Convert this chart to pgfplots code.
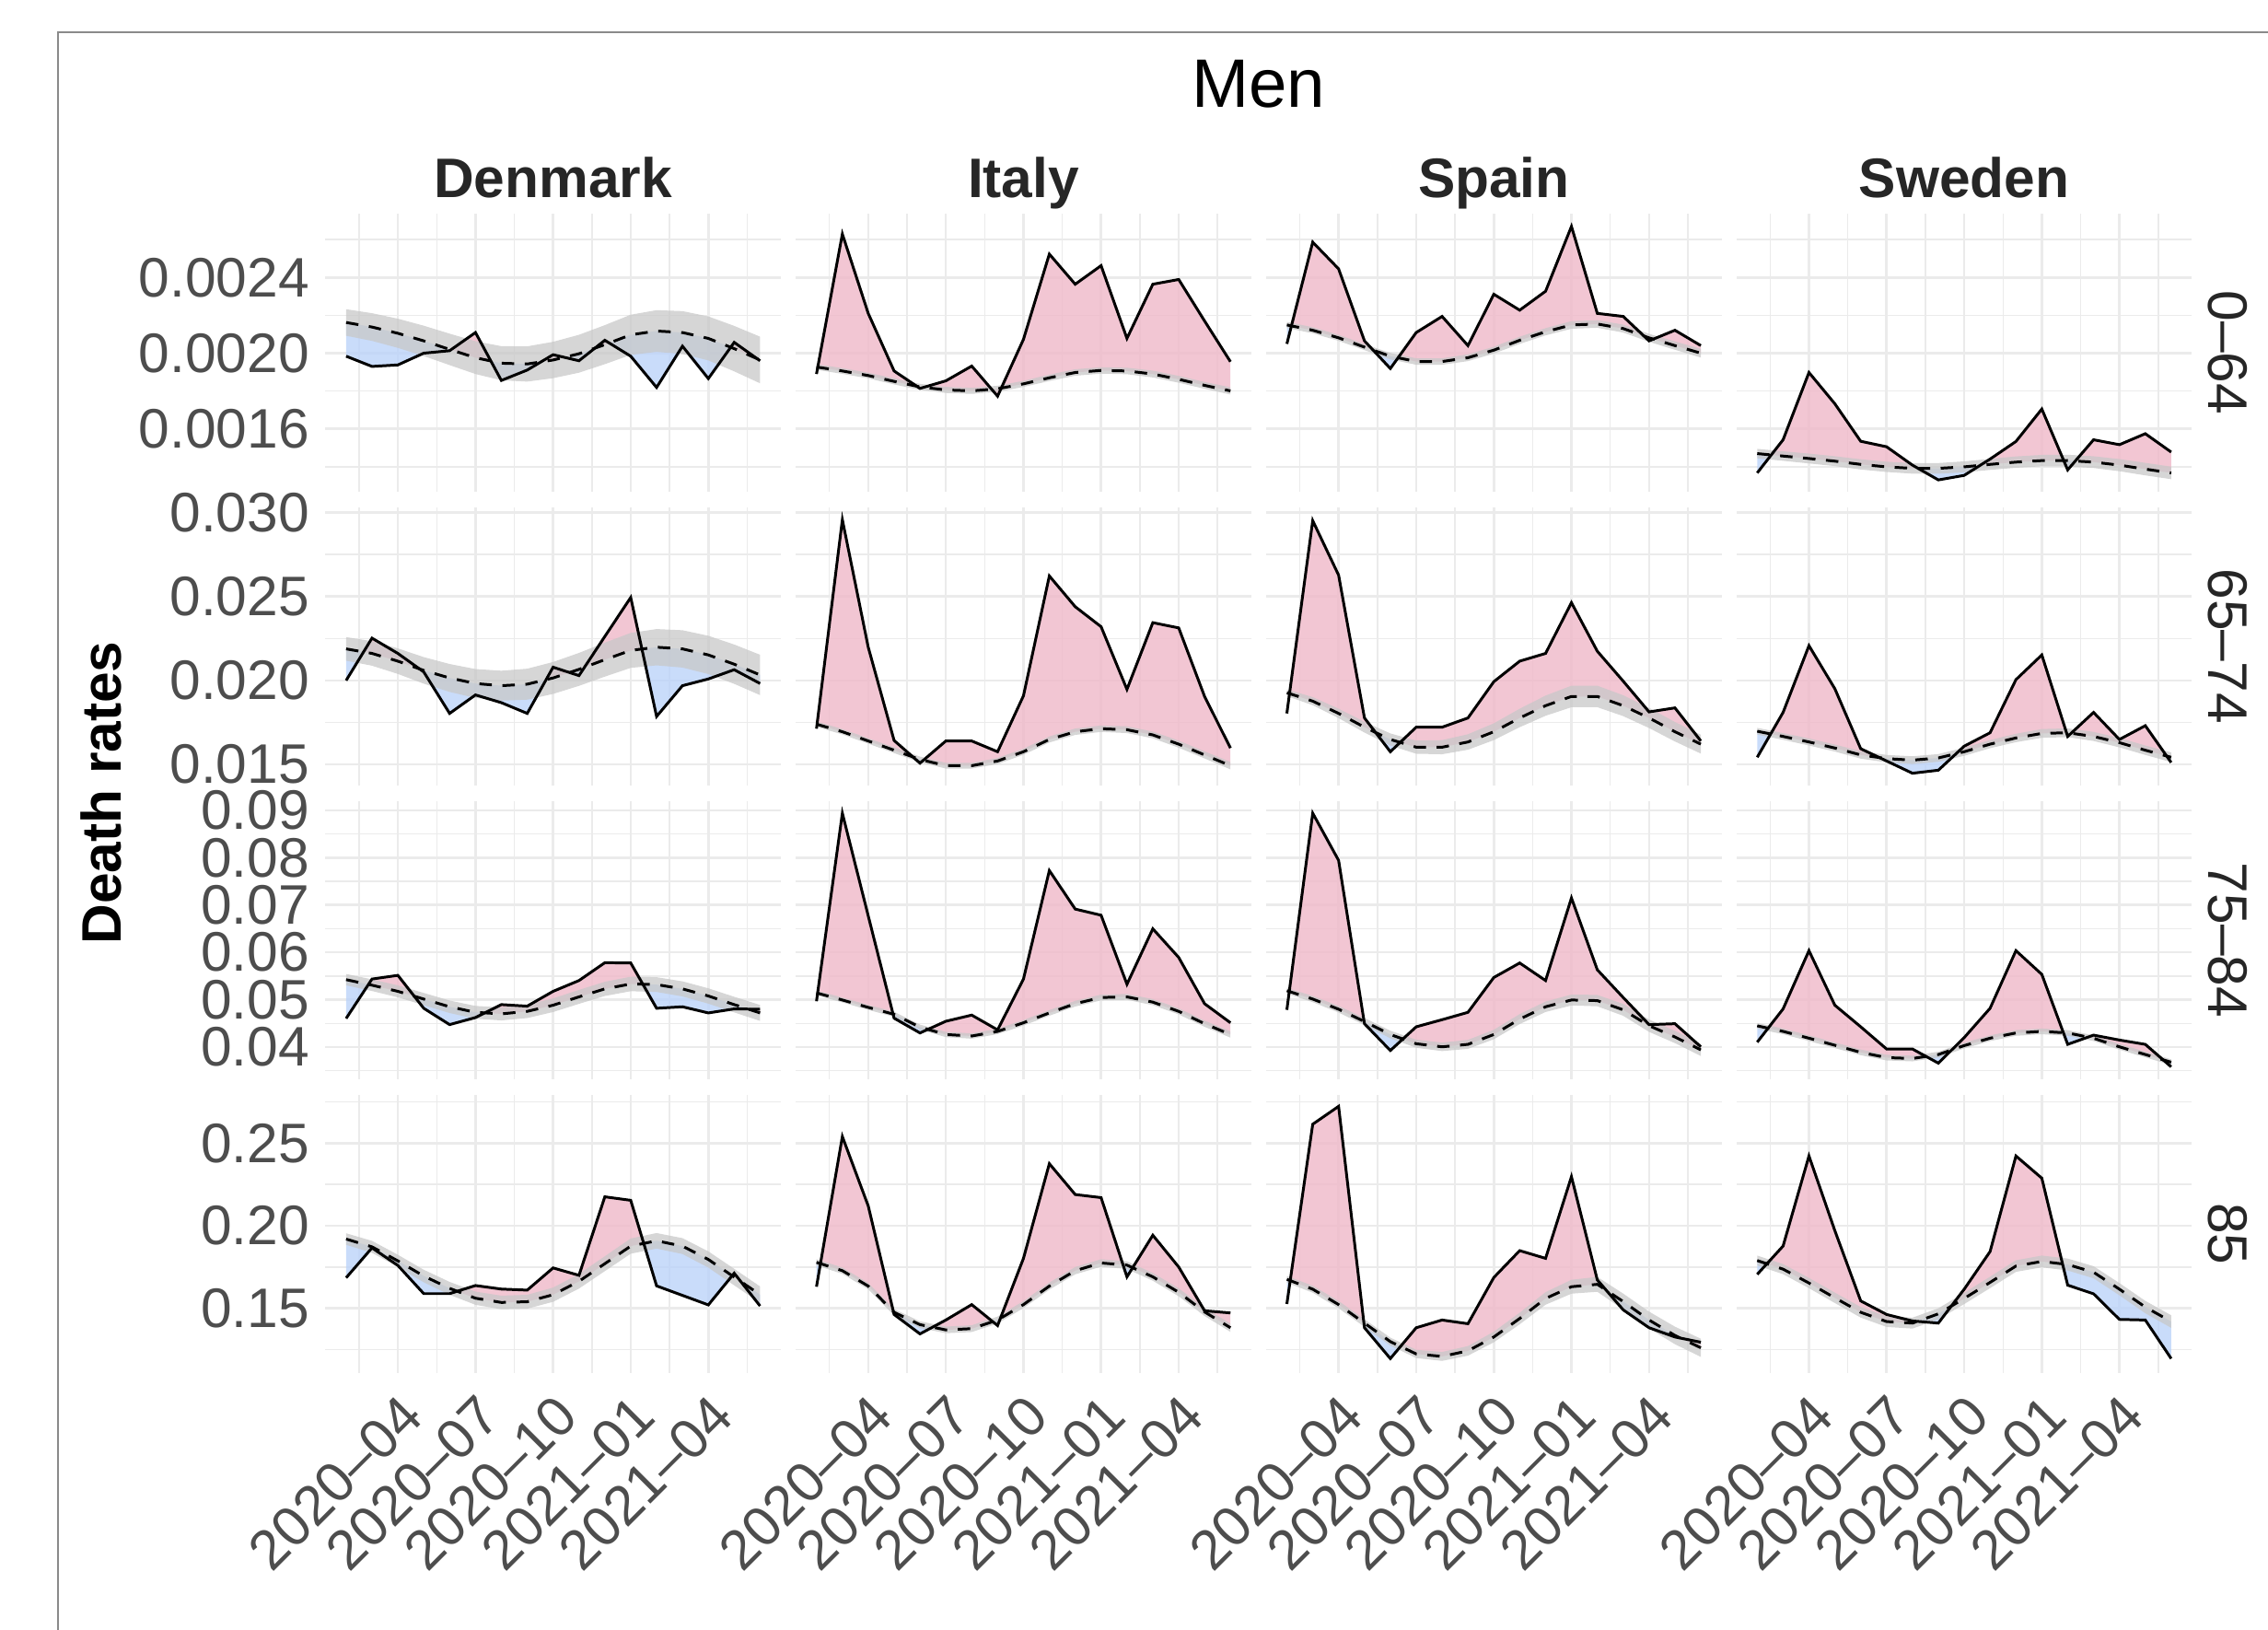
\documentclass[border=0pt]{standalone}
\usepackage{fontspec}
\setmainfont{Liberation Sans}
\usepackage{pgfplots}
\usepackage{pgfplotstable}
\usepgfplotslibrary{fillbetween}
\pgfplotsset{compat=1.18}

\definecolor{gridC}{HTML}{EBEBEB}
\definecolor{pinkC}{HTML}{EFB8C8}
\definecolor{blueC}{HTML}{BBD3F9}
\definecolor{ribC}{HTML}{C8C8C8}
\definecolor{tickC}{HTML}{4D4D4D}
\definecolor{stripC}{HTML}{262626}
\definecolor{frameC}{HTML}{8A8A8A}
\newcommand\fs{\fontsize{17.2}{20}\selectfont}

% ---------- data: x obs exp lo hi ----------
\pgfplotstableread{
x obs exp lo hi
0 0.001984 0.002162 0.002092 0.002232
1 0.001930 0.002138 0.002065 0.002211
2 0.001938 0.002105 0.002028 0.002182
3 0.002000 0.002065 0.001985 0.002145
4 0.002013 0.002020 0.001937 0.002103
5 0.002109 0.001976 0.001890 0.002063
6 0.001856 0.001947 0.001857 0.002037
7 0.001911 0.001943 0.001850 0.002036
8 0.001992 0.001964 0.001868 0.002060
9 0.001960 0.001997 0.001897 0.002097
10 0.002068 0.002045 0.001942 0.002148
11 0.001984 0.002097 0.001991 0.002203
12 0.001819 0.002117 0.002007 0.002227
13 0.002037 0.002109 0.001996 0.002222
14 0.001866 0.002078 0.001962 0.002194
15 0.002057 0.002024 0.001904 0.002144
16 0.001960 0.001964 0.001841 0.002087
}\tDKa
\pgfplotstableread{
x obs exp lo hi
0 0.001890 0.001927 0.001912 0.001942
1 0.002629 0.001906 0.001891 0.001921
2 0.002210 0.001882 0.001867 0.001897
3 0.001906 0.001851 0.001835 0.001867
4 0.001814 0.001822 0.001806 0.001838
5 0.001854 0.001806 0.001790 0.001822
6 0.001932 0.001801 0.001785 0.001817
7 0.001773 0.001812 0.001796 0.001828
8 0.002073 0.001838 0.001822 0.001854
9 0.002523 0.001870 0.001853 0.001887
10 0.002364 0.001898 0.001881 0.001915
11 0.002462 0.001909 0.001892 0.001926
12 0.002078 0.001906 0.001889 0.001923
13 0.002364 0.001890 0.001872 0.001908
14 0.002389 0.001862 0.001844 0.001880
15 0.002170 0.001830 0.001812 0.001848
16 0.001955 0.001801 0.001782 0.001820
}\tITa
\pgfplotstableread{
x obs exp lo hi
0 0.002049 0.002149 0.002133 0.002165
1 0.002586 0.002121 0.002105 0.002137
2 0.002445 0.002081 0.002065 0.002097
3 0.002065 0.002032 0.002016 0.002048
4 0.001919 0.001984 0.001967 0.002001
5 0.002109 0.001956 0.001939 0.001973
6 0.002194 0.001956 0.001939 0.001973
7 0.002040 0.001976 0.001958 0.001994
8 0.002311 0.002016 0.001998 0.002034
9 0.002227 0.002068 0.002049 0.002087
10 0.002327 0.002113 0.002094 0.002132
11 0.002669 0.002149 0.002129 0.002169
12 0.002210 0.002154 0.002134 0.002174
13 0.002194 0.002130 0.002109 0.002151
14 0.002065 0.002081 0.002060 0.002102
15 0.002121 0.002040 0.002018 0.002062
16 0.002040 0.002000 0.001977 0.002023
}\tESa
\pgfplotstableread{
x obs exp lo hi
0 0.001368 0.001470 0.001445 0.001495
1 0.001543 0.001457 0.001432 0.001482
2 0.001898 0.001444 0.001418 0.001470
3 0.001733 0.001430 0.001404 0.001456
4 0.001535 0.001413 0.001386 0.001440
5 0.001506 0.001400 0.001373 0.001427
6 0.001409 0.001392 0.001364 0.001420
7 0.001331 0.001392 0.001364 0.001420
8 0.001355 0.001400 0.001371 0.001429
9 0.001441 0.001413 0.001384 0.001442
10 0.001534 0.001425 0.001395 0.001455
11 0.001705 0.001433 0.001403 0.001463
12 0.001384 0.001433 0.001402 0.001464
13 0.001543 0.001425 0.001394 0.001456
14 0.001517 0.001409 0.001377 0.001441
15 0.001575 0.001388 0.001355 0.001421
16 0.001478 0.001368 0.001335 0.001401
}\tSEa
% row 2
\pgfplotstableread{
x obs exp lo hi
0 0.02000 0.02188 0.02118 0.02258
1 0.02252 0.02161 0.02088 0.02234
2 0.02161 0.02115 0.02039 0.02191
3 0.02051 0.02060 0.01981 0.02139
4 0.01804 0.02015 0.01932 0.02098
5 0.01914 0.01982 0.01896 0.02068
6 0.01868 0.01969 0.01880 0.02058
7 0.01804 0.01978 0.01886 0.02070
8 0.02079 0.02015 0.01920 0.02110
9 0.02029 0.02066 0.01968 0.02164
10 0.02262 0.02124 0.02023 0.02225
11 0.02494 0.02179 0.02075 0.02283
12 0.01786 0.02198 0.02090 0.02306
13 0.01969 0.02188 0.02077 0.02299
14 0.02009 0.02152 0.02038 0.02266
15 0.02064 0.02097 0.01980 0.02214
16 0.01982 0.02033 0.01913 0.02153
}\tDKb
\pgfplotstableread{
x obs exp lo hi
0 0.01713 0.01740 0.01724 0.01756
1 0.02957 0.01695 0.01679 0.01711
2 0.02198 0.01640 0.01624 0.01656
3 0.01643 0.01585 0.01568 0.01602
4 0.01508 0.01530 0.01513 0.01547
5 0.01640 0.01493 0.01476 0.01510
6 0.01640 0.01493 0.01476 0.01510
7 0.01576 0.01521 0.01503 0.01539
8 0.01909 0.01576 0.01558 0.01594
9 0.02622 0.01649 0.01631 0.01667
10 0.02439 0.01695 0.01676 0.01714
11 0.02320 0.01713 0.01694 0.01732
12 0.01947 0.01707 0.01687 0.01727
13 0.02344 0.01676 0.01656 0.01696
14 0.02313 0.01621 0.01600 0.01642
15 0.01905 0.01557 0.01536 0.01578
16 0.01598 0.01493 0.01471 0.01515
}\tITb
\pgfplotstableread{
x obs exp lo hi
0 0.01804 0.01927 0.01907 0.01947
1 0.02951 0.01877 0.01853 0.01901
2 0.02627 0.01804 0.01776 0.01832
3 0.01777 0.01722 0.01690 0.01754
4 0.01576 0.01649 0.01613 0.01685
5 0.01722 0.01603 0.01564 0.01642
6 0.01722 0.01603 0.01561 0.01645
7 0.01777 0.01634 0.01588 0.01680
8 0.01993 0.01695 0.01645 0.01745
9 0.02115 0.01777 0.01722 0.01832
10 0.02161 0.01850 0.01790 0.01910
11 0.02463 0.01905 0.01841 0.01969
12 0.02174 0.01905 0.01841 0.01969
13 0.01996 0.01850 0.01788 0.01912
14 0.01813 0.01777 0.01717 0.01837
15 0.01837 0.01695 0.01637 0.01753
16 0.01640 0.01621 0.01565 0.01677
}\tESb
\pgfplotstableread{
x obs exp lo hi
0 0.01543 0.01698 0.01678 0.01718
1 0.01810 0.01667 0.01647 0.01687
2 0.02207 0.01634 0.01613 0.01655
3 0.01951 0.01598 0.01577 0.01619
4 0.01594 0.01557 0.01535 0.01579
5 0.01521 0.01535 0.01513 0.01557
6 0.01448 0.01526 0.01503 0.01549
7 0.01466 0.01539 0.01516 0.01562
8 0.01609 0.01576 0.01552 0.01600
9 0.01689 0.01621 0.01597 0.01645
10 0.02005 0.01658 0.01633 0.01683
11 0.02152 0.01685 0.01659 0.01711
12 0.01667 0.01689 0.01663 0.01715
13 0.01810 0.01667 0.01640 0.01694
14 0.01649 0.01630 0.01602 0.01658
15 0.01731 0.01585 0.01557 0.01613
16 0.01512 0.01543 0.01514 0.01572
}\tSEb
% row 3
\pgfplotstableread{
x obs exp lo hi
0 0.04603 0.05423 0.05303 0.05543
1 0.05436 0.05306 0.05183 0.05429
2 0.05514 0.05176 0.05050 0.05302
3 0.04818 0.05013 0.04884 0.05142
4 0.04473 0.04850 0.04718 0.04982
5 0.04622 0.04733 0.04598 0.04868
6 0.04896 0.04700 0.04562 0.04838
7 0.04863 0.04753 0.04612 0.04894
8 0.05176 0.04883 0.04739 0.05027
9 0.05404 0.05059 0.04912 0.05206
10 0.05781 0.05228 0.05078 0.05378
11 0.05775 0.05332 0.05179 0.05485
12 0.04818 0.05319 0.05163 0.05475
13 0.04850 0.05228 0.05069 0.05387
14 0.04720 0.05078 0.04916 0.05240
15 0.04805 0.04896 0.04731 0.05061
16 0.04798 0.04720 0.04552 0.04888
}\tDKc
\pgfplotstableread{
x obs exp lo hi
0 0.04967 0.05143 0.05093 0.05193
1 0.08939 0.04993 0.04942 0.05044
2 0.06771 0.04837 0.04785 0.04889
3 0.04609 0.04690 0.04637 0.04743
4 0.04297 0.04420 0.04366 0.04474
5 0.04544 0.04264 0.04209 0.04319
6 0.04674 0.04232 0.04176 0.04288
7 0.04362 0.04329 0.04272 0.04386
8 0.05436 0.04512 0.04454 0.04570
9 0.07728 0.04720 0.04661 0.04779
10 0.06914 0.04915 0.04855 0.04975
11 0.06784 0.05046 0.04985 0.05107
12 0.05326 0.05059 0.04997 0.05121
13 0.06497 0.04948 0.04885 0.05011
14 0.05892 0.04753 0.04689 0.04817
15 0.04915 0.04492 0.04427 0.04557
16 0.04512 0.04264 0.04198 0.04330
}\tITc
\pgfplotstableread{
x obs exp lo hi
0 0.04785 0.05189 0.05129 0.05249
1 0.08939 0.05013 0.04948 0.05078
2 0.07943 0.04798 0.04728 0.04868
3 0.04492 0.04538 0.04463 0.04613
4 0.03926 0.04264 0.04184 0.04344
5 0.04427 0.04069 0.03984 0.04154
6 0.04577 0.04004 0.03914 0.04094
7 0.04733 0.04056 0.03961 0.04151
8 0.05469 0.04264 0.04164 0.04364
9 0.05775 0.04590 0.04485 0.04695
10 0.05404 0.04850 0.04740 0.04960
11 0.07148 0.04993 0.04878 0.05108
12 0.05631 0.04980 0.04860 0.05100
13 0.05046 0.04785 0.04660 0.04910
14 0.04473 0.04450 0.04320 0.04580
15 0.04492 0.04212 0.04082 0.04342
16 0.04004 0.03940 0.03810 0.04070
}\tESc
\pgfplotstableread{
x obs exp lo hi
0 0.04102 0.04447 0.04387 0.04507
1 0.04805 0.04330 0.04270 0.04390
2 0.06035 0.04186 0.04126 0.04246
3 0.04883 0.04037 0.03977 0.04097
4 0.04427 0.03887 0.03827 0.03947
5 0.03958 0.03776 0.03716 0.03836
6 0.03958 0.03757 0.03697 0.03817
7 0.03659 0.03841 0.03781 0.03901
8 0.04199 0.04030 0.03970 0.04090
9 0.04818 0.04186 0.04126 0.04246
10 0.06035 0.04297 0.04237 0.04357
11 0.05534 0.04330 0.04270 0.04390
12 0.04056 0.04297 0.04237 0.04357
13 0.04251 0.04186 0.04126 0.04246
14 0.04147 0.04004 0.03944 0.04064
15 0.04056 0.03841 0.03781 0.03901
16 0.03581 0.03679 0.03619 0.03739
}\tSEc
% row 4
\pgfplotstableread{
x obs exp lo hi
0 0.16846 0.19190 0.18840 0.19540
1 0.18657 0.18720 0.18360 0.19080
2 0.17592 0.17869 0.17499 0.18239
3 0.15887 0.16953 0.16573 0.17333
4 0.15887 0.16207 0.15817 0.16597
5 0.16377 0.15610 0.15210 0.16010
6 0.16164 0.15354 0.14944 0.15764
7 0.16100 0.15397 0.14977 0.15817
8 0.17443 0.15823 0.15393 0.16253
9 0.16995 0.16633 0.16193 0.17073
10 0.21747 0.17699 0.17249 0.18149
11 0.21534 0.18764 0.18304 0.19224
12 0.16356 0.19084 0.18614 0.19554
13 0.15781 0.18764 0.18284 0.19244
14 0.15205 0.17954 0.17464 0.18444
15 0.17123 0.16889 0.16389 0.17389
16 0.15141 0.15823 0.15323 0.16323
}\tDKd
\pgfplotstableread{
x obs exp lo hi
0 0.16305 0.17779 0.17589 0.17969
1 0.25393 0.17276 0.17086 0.17466
2 0.21194 0.16343 0.16153 0.16533
3 0.14626 0.14756 0.14561 0.14951
4 0.13450 0.14010 0.13810 0.14210
5 0.14290 0.13693 0.13493 0.13893
6 0.15223 0.13768 0.13563 0.13973
7 0.13954 0.14290 0.14080 0.14500
8 0.18022 0.15223 0.15013 0.15433
9 0.23751 0.16343 0.16128 0.16558
10 0.21885 0.17276 0.17056 0.17496
11 0.21698 0.17742 0.17517 0.17967
12 0.16902 0.17612 0.17382 0.17842
13 0.19422 0.16902 0.16667 0.17137
14 0.17500 0.15969 0.15729 0.16209
15 0.14850 0.14780 0.14535 0.15025
16 0.14719 0.13823 0.13573 0.14073
}\tITd
\pgfplotstableread{
x obs exp lo hi
0 0.15260 0.16753 0.16553 0.16953
1 0.26139 0.16156 0.15946 0.16366
2 0.27221 0.15223 0.15003 0.15443
3 0.13823 0.14103 0.13873 0.14333
4 0.11957 0.12984 0.12744 0.13224
5 0.13823 0.12238 0.11988 0.12488
6 0.14290 0.12088 0.11818 0.12358
7 0.14066 0.12424 0.12134 0.12714
8 0.16865 0.13264 0.12944 0.13584
9 0.18489 0.14383 0.14033 0.14733
10 0.18022 0.15596 0.15216 0.15976
11 0.22967 0.16305 0.15885 0.16725
12 0.16716 0.16450 0.16000 0.16900
13 0.14906 0.15410 0.14930 0.15890
14 0.13823 0.14290 0.13780 0.14800
15 0.13264 0.13357 0.12827 0.13887
16 0.12946 0.12610 0.12060 0.13160
}\tESd
\pgfplotstableread{
x obs exp lo hi
0 0.17052 0.17891 0.17591 0.18191
1 0.18768 0.17369 0.17064 0.17674
2 0.24217 0.16529 0.16219 0.16839
3 0.19701 0.15634 0.15319 0.15949
4 0.15447 0.14757 0.14437 0.15077
5 0.14626 0.14197 0.13872 0.14522
6 0.14234 0.14103 0.13773 0.14433
7 0.14103 0.14663 0.14328 0.14998
8 0.16156 0.15596 0.15256 0.15936
9 0.18433 0.16566 0.16221 0.16911
10 0.24217 0.17556 0.17206 0.17906
11 0.22874 0.17835 0.17480 0.18190
12 0.16399 0.17649 0.17289 0.18009
13 0.15876 0.17182 0.16817 0.17547
14 0.14327 0.16156 0.15786 0.16526
15 0.14290 0.15074 0.14699 0.15449
16 0.11957 0.14197 0.13817 0.14577
}\tSEd

\pgfplotsset{
  panel/.style={
    scale only axis, width=49.45mm, height=30.2mm, anchor=north west,
    xmin=-0.8, xmax=16.8,
    xtick={2,5,8,11,14}, minor xtick={0.5,3.5,6.5,9.5,12.5,15.5},
    xmajorgrids, xminorgrids, ymajorgrids, yminorgrids,
    major grid style={draw=gridC, line width=0.75pt},
    minor grid style={draw=gridC, line width=0.4pt},
    axis line style={draw=none},
    major tick style={draw=none}, minor tick style={draw=none},
    scaled y ticks=false, scaled x ticks=false,
    xticklabels={}, yticklabels={},
    ticklabel style={font=\fs, text=tickC, inner sep=0pt},
    yticklabel style={anchor=east}, yticklabel shift=1.7mm,
    xticklabel style={rotate=45, anchor=north east}, xticklabel shift=2mm,
  },
  ra/.style={ymin=0.00127, ymax=0.002738, ytick={0.0016,0.0020,0.0024}, minor ytick={0.0014,0.0018,0.0022,0.0026}},
  rb/.style={ymin=0.01376, ymax=0.03031, ytick={0.015,0.020,0.025,0.030}, minor ytick={0.0175,0.0225,0.0275}},
  rc/.style={ymin=0.0332, ymax=0.09195, ytick={0.04,0.05,0.06,0.07,0.08,0.09}, minor ytick={0.035,0.045,0.055,0.065,0.075,0.085}},
  rd/.style={ymin=0.1108, ymax=0.2791, ytick={0.15,0.20,0.25}, minor ytick={0.125,0.175,0.225,0.275}},
  la/.style={yticklabels={0.0016,0.0020,0.0024}},
  lb/.style={yticklabels={0.015,0.020,0.025,0.030}},
  lc/.style={yticklabels={0.04,0.05,0.06,0.07,0.08,0.09}},
  ld/.style={yticklabels={0.15,0.20,0.25}},
  lx/.style={xticklabels={2020\textendash 04,2020\textendash 07,2020\textendash 10,2021\textendash 01,2021\textendash 04}},
}

% #1 table, #2 colour of even segments, #3 colour of odd segments
\newcommand\panel[3]{%
  \addplot[draw=none, name path=o] table[x=x,y=obs]{#1};
  \addplot[draw=none, name path=e] table[x=x,y=exp]{#1};
  \addplot[draw=none, name path=l] table[x=x,y=lo]{#1};
  \addplot[draw=none, name path=h] table[x=x,y=hi]{#1};
  \addplot[draw=none] fill between[of=o and e, split,
     every even segment/.style={fill=#2, fill opacity=0.8},
     every odd segment/.style={fill=#3, fill opacity=0.8}];
  \addplot[draw=none, fill=ribC, fill opacity=0.75] fill between[of=h and l];
  \addplot[black, line width=0.85pt, dash pattern=on 1.35mm off 1.15mm] table[x=x,y=exp]{#1};
  \addplot[black, line width=0.85pt] table[x=x,y=obs]{#1};
}

\begin{document}
\begin{tikzpicture}
% row 1
\begin{axis}[panel, ra, la, at={(35.34mm,153.73mm)}] \panel{\tDKa}{blueC}{pinkC} \end{axis}
\begin{axis}[panel, ra, at={(86.42mm,153.73mm)}] \panel{\tITa}{pinkC}{pinkC} \end{axis}
\begin{axis}[panel, ra, at={(137.50mm,153.73mm)}] \panel{\tESa}{blueC}{pinkC} \end{axis}
\begin{axis}[panel, ra, at={(188.58mm,153.73mm)}] \panel{\tSEa}{blueC}{pinkC} \end{axis}
% row 2
\begin{axis}[panel, rb, lb, at={(35.34mm,121.82mm)}] \panel{\tDKb}{blueC}{pinkC} \end{axis}
\begin{axis}[panel, rb, at={(86.42mm,121.82mm)}] \panel{\tITb}{pinkC}{blueC} \end{axis}
\begin{axis}[panel, rb, at={(137.50mm,121.82mm)}] \panel{\tESb}{pinkC}{blueC} \end{axis}
\begin{axis}[panel, rb, at={(188.58mm,121.82mm)}] \panel{\tSEb}{blueC}{pinkC} \end{axis}
% row 3
\begin{axis}[panel, rc, lc, at={(35.34mm,89.91mm)}] \panel{\tDKc}{blueC}{pinkC} \end{axis}
\begin{axis}[panel, rc, at={(86.42mm,89.91mm)}] \panel{\tITc}{pinkC}{blueC} \end{axis}
\begin{axis}[panel, rc, at={(137.50mm,89.91mm)}] \panel{\tESc}{pinkC}{blueC} \end{axis}
\begin{axis}[panel, rc, at={(188.58mm,89.91mm)}] \panel{\tSEc}{blueC}{pinkC} \end{axis}
% row 4
\begin{axis}[panel, rd, ld, lx, at={(35.34mm,58.00mm)}] \panel{\tDKd}{blueC}{pinkC} \end{axis}
\begin{axis}[panel, rd, lx, at={(86.42mm,58.00mm)}] \panel{\tITd}{blueC}{pinkC} \end{axis}
\begin{axis}[panel, rd, lx, at={(137.50mm,58.00mm)}] \panel{\tESd}{blueC}{pinkC} \end{axis}
\begin{axis}[panel, rd, lx, at={(188.58mm,58.00mm)}] \panel{\tSEd}{blueC}{pinkC} \end{axis}

% titles and strips
\node[font=\fontsize{21.2}{25}\selectfont, text=black] at (136.65mm,167.8mm) {Men};
\foreach \xx/\nm in {60.07/Denmark, 111.15/Italy, 162.23/Spain, 213.31/Sweden}
  \node[font=\fs\bfseries, text=stripC, anchor=base, inner sep=0pt] at (\xx mm,155.4mm) {\nm};
\foreach \yy/\nm in {138.63/0\textendash 64, 106.72/65\textendash 74, 74.81/75\textendash 84, 42.90/85}
  \node[font=\fs, text=stripC, rotate=-90] at (241.9mm,\yy mm) {\nm};
\node[font=\fs\bfseries, text=black, rotate=90] at (11.0mm,90.8mm) {Death rates};

\pgfresetboundingbox
\path[use as bounding box] (0,0) rectangle (246.3mm,176.9mm);
% outer frame (partly outside the page)
\draw[frameC, line width=0.6pt] (6.3mm,-10mm) -- (6.3mm,173.4mm) -- (260mm,173.4mm);
\end{tikzpicture}
\end{document}
